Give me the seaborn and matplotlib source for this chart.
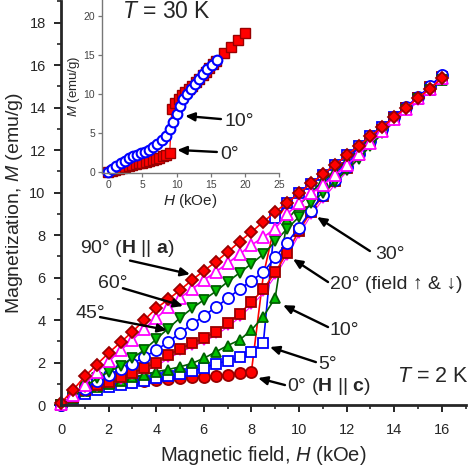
import matplotlib
matplotlib.use("Agg")
import matplotlib.pyplot as plt
from matplotlib.ticker import MultipleLocator
import seaborn as sns
import numpy as np


# --------------------------------------------------------------------------------------------------
# data (T = 2 K, field sweeps at different angles, 0.5 kOe steps)

H_MAIN = [0.0, 0.5, 1.0, 1.5, 2.0, 2.5, 3.0, 3.5, 4.0, 4.5, 5.0, 5.5, 6.0, 6.5, 7.0, 7.5,
          8.0, 8.5, 9.0, 9.5, 10.0, 10.5, 11.0, 11.5, 12.0, 12.5, 13.0, 13.5, 14.0, 14.5,
          15.0, 15.5, 16.0]

M_90 = [0.1, 0.7, 1.35, 1.9, 2.45, 2.95, 3.45, 4.0, 4.55, 4.97, 5.41, 5.88, 6.32, 6.74, 7.2,
        7.69, 8.15, 8.62, 9.1, 9.52, 9.96, 10.43, 10.86, 11.3, 11.75, 12.2, 12.65, 13.1,
        13.55, 14.0, 14.45, 14.9, 15.38]
M_60 = [0.05, 0.45, 0.95, 1.55, 2.05, 2.58, 3.06, 3.6, 4.08, 4.6, 5.05, 5.45, 5.88, 6.27,
        6.67, 7.1, 7.53, 7.9, 8.31, 9.0, 9.49, 9.96, 10.35, 10.82, 11.29, 11.8, 12.35, 12.9,
        13.45, 13.95, 14.45, 14.9, 15.38]
M_45 = [0.0, 0.4, 0.85, 1.25, 1.55, 1.85, 2.2, 2.6, 3.1, 3.6, 4.1, 4.55, 4.95, 5.35, 5.8,
        6.22, 6.65, 7.1, 7.7, 8.3, 8.86, 9.49, 10.0, 10.5, 11.06, 11.6, 12.2, 12.8, 13.4,
        13.9, 14.4, 14.85, 15.3]
M_30 = [0.0, 0.45, 0.75, 1.15, 1.4, 1.7, 1.95, 2.25, 2.6, 2.95, 3.4, 3.8, 4.2, 4.6, 5.02,
        5.45, 5.85, 6.25, 6.95, 7.65, 8.35, 9.15, 9.9, 10.6, 11.2, 11.8, 12.45, 13.0, 13.55,
        14.05, 14.5, 15.0, 15.55]
M_20_UP = [0.0, 0.4, 0.7, 0.95, 1.1, 1.3, 1.5, 1.75, 2.0, 2.35, 2.65, 2.9, 3.15, 3.45, 3.85,
           4.3, 4.85, 5.45, 6.25, 7.17, 8.2, 9.1, 9.85, 10.55, 11.15, 11.75, 12.4, 12.95,
           13.5, 14.0, 14.45, 14.95, 15.45]
M_20_DOWN = [0.0, 0.3, 0.58, 0.82, 0.97, 1.15, 1.35, 1.58, 1.83, 2.18, 2.48, 2.73, 2.98,
             3.28, 3.67, 4.12, 4.67, 5.27, 6.07, 6.99, 8.02, 8.92, 9.67, 10.37, 10.97, 11.57,
             12.22, 12.77, 13.32, 13.82, 14.27, 14.77, 15.27]
M_10 = [0.0, 0.35, 0.65, 0.85, 1.0, 1.15, 1.3, 1.42, 1.57, 1.67, 1.8, 1.96, 2.2, 2.5, 2.8,
        3.06, 3.53, 4.16, 5.05, 8.7, 9.4, 10.0, 10.55, 11.0, 11.5, 12.0, 12.5, 13.0, 13.5,
        13.95, 14.4, 14.85, 15.3]
M_5 = [0.0, 0.3, 0.5, 0.7, 0.85, 0.95, 1.05, 1.15, 1.25, 1.35, 1.45, 1.6, 1.75, 1.95, 2.07,
       2.24, 2.51, 2.9, 8.8, 9.5, 10.0, 10.4, 10.85, 11.3, 11.75, 12.2, 12.65, 13.1, 13.55,
       14.0, 14.45, 14.9, 15.4]
# 0 deg: markers up to 8 kOe, beyond that only the line
M_0 = [0.0, 0.45, 0.75, 0.9, 1.0, 1.05, 1.1, 1.15, 1.2, 1.22, 1.25, 1.3, 1.33, 1.38, 1.43,
       1.5, 1.57, 6.1, 8.6, 9.5, 10.0, 10.4, 10.85, 11.3, 11.75, 12.2, 12.65, 13.1, 13.55,
       14.0, 14.45, 14.9, 15.4]
N_MARK_0 = 17

# inset, T = 30 K
H_30K_10 = [0.0, 0.6, 1.2, 1.8, 2.4, 3.0, 3.6, 4.2, 4.8, 5.4, 6.0, 6.6, 7.2, 7.8, 8.4, 9.0,
            9.5, 10.0, 10.5, 11.0, 11.5, 12.1, 12.7, 13.3, 13.9, 14.5, 15.2, 15.9]
M_30K_10 = [0.0, 0.4, 0.8, 1.15, 1.45, 1.75, 2.0, 2.18, 2.38, 2.62, 2.85, 3.15, 3.55, 4.1,
            4.65, 5.5, 6.45, 7.45, 8.5, 9.35, 10.04, 10.7, 11.3, 11.9, 12.6, 13.2, 13.8, 14.4]
H_30K_0 = [0.0, 0.5, 1.0, 1.5, 2.0, 2.5, 3.0, 3.5, 4.0, 4.5, 5.0, 5.5, 6.0, 6.5, 7.0, 7.5,
           8.0, 8.5, 9.0, 9.3, 9.8, 10.3, 10.8, 11.3, 11.8, 12.3, 12.8, 13.3, 13.8, 14.3,
           14.8, 15.3, 15.8, 17.0, 18.0, 19.0, 20.0]
M_30K_0 = [0.0, 0.15, 0.3, 0.42, 0.54, 0.66, 0.78, 0.9, 1.0, 1.1, 1.2, 1.32, 1.45, 1.57, 1.7,
           1.85, 2.0, 2.2, 2.45, 8.1, 8.9, 9.4, 9.9, 10.3, 10.7, 11.1, 11.5, 11.9, 12.4, 12.9,
           13.4, 13.9, 14.3, 15.3, 16.0, 17.0, 17.9]


# --------------------------------------------------------------------------------------------------
# style

sns.set_style("ticks")
plt.rcParams["font.family"] = ["Liberation Sans", "DejaVu Sans"]
plt.rcParams["mathtext.fontset"] = "custom"
plt.rcParams["mathtext.rm"] = "Liberation Sans"
plt.rcParams["mathtext.it"] = "Liberation Sans:italic"
plt.rcParams["mathtext.bf"] = "Liberation Sans:bold"

RED, DRED = "#ff0000", "#990000"
GREEN, DGREEN = "#00c000", "#006000"
BLUE = "#0000ff"
MAG = "#ff00ff"

fig = plt.figure(figsize=(4.74, 4.72), dpi=100)
ax = fig.add_axes([0.1287, 0.1419, 0.8536, 0.855])


def curve(ax, x, y, color, marker, mfc, mec, ms=7.5, lw=1.2, mew=1.3, **kw):
    sns.lineplot(x=x, y=y, ax=ax, sort=False, estimator=None, color=color, lw=lw,
                 marker=marker, markersize=ms, markerfacecolor=mfc, markeredgecolor=mec,
                 markeredgewidth=mew, clip_on=False, **kw)


curve(ax, H_MAIN, M_0, RED, "o", RED, DRED, ms=8, markevery=list(range(N_MARK_0)))
curve(ax, H_MAIN, M_5, BLUE, "s", "white", BLUE, ms=6.5)
curve(ax, H_MAIN, M_10, DGREEN, "^", GREEN, DGREEN, ms=7.5)
curve(ax, H_MAIN, M_20_DOWN, MAG, "v", MAG, MAG, ms=4, lw=0.8)
curve(ax, H_MAIN, M_20_UP, RED, "s", RED, DRED, ms=6.5)
curve(ax, H_MAIN, M_30, BLUE, "o", "white", BLUE, ms=8)
curve(ax, H_MAIN, M_45, DGREEN, "v", GREEN, DGREEN, ms=7.5)
curve(ax, H_MAIN, M_60, MAG, "^", "white", MAG, ms=8)
curve(ax, H_MAIN, M_90, RED, "D", RED, DRED, ms=6.5)

ax.set_xlim(0, 17)
ax.set_ylim(0, 19)
ax.xaxis.set_major_locator(MultipleLocator(2))
ax.xaxis.set_minor_locator(MultipleLocator(1))
ax.yaxis.set_major_locator(MultipleLocator(2))
ax.yaxis.set_minor_locator(MultipleLocator(1))
ax.tick_params(which="major", direction="out", length=5, width=1.4, labelsize=10.5)
ax.tick_params(which="minor", direction="out", length=3, width=1.2)
ax.tick_params(axis="x", which="major", pad=8)
ax.tick_params(axis="y", which="major", pad=6)
for side in ["top", "right"]:
    ax.spines[side].set_visible(False)
for side in ["left", "bottom"]:
    ax.spines[side].set_linewidth(2)
ax.set_xlabel("Magnetic field, $H$ (kOe)", fontsize=14.5, labelpad=5)
ax.set_ylabel("Magnetization, $M$ (emu/g)", fontsize=14, labelpad=3)

# --- annotations (text pos, arrow tail, arrow tip)
arrow_kw = dict(arrowstyle="-|>,head_length=0.55,head_width=0.25", lw=1.7, color="black",
                shrinkA=0, shrinkB=0)
labels = [
    (r"90° ($\mathbf{H}$ || $\mathbf{a}$)", (0.8, 7.39), (2.9, 6.8), (5.42, 6.16)),
    ("60°", (1.55, 5.74), (2.6, 5.5), (5.13, 4.66)),
    ("45°", (0.59, 4.33), (1.64, 4.14), (4.45, 3.53)),
    ("30°", (13.2, 7.1), (12.98, 7.25), (10.76, 8.85)),
    ("20° (field ↑ & ↓)", (11.3, 5.69), (11.22, 5.79), (9.75, 6.87)),
    ("10°", (11.3, 3.53), (11.22, 3.67), (9.33, 4.7)),
    ("5°", (10.8, 1.93), (10.71, 2.02), (8.78, 2.73)),
    (r"0° ($\mathbf{H}$ || $\mathbf{c}$)", (9.5, 0.85), (9.41, 0.94), (8.28, 1.27)),
]
for txt, pos, tail, tip in labels:
    ax.text(pos[0], pos[1], txt, fontsize=14, ha="left", va="center")
    ax.annotate("", xy=tip, xytext=tail, arrowprops=arrow_kw)

ax.text(14.1, 1.36, "$T$ = 2 K", fontsize=15.5, ha="left", va="center")


# --------------------------------------------------------------------------------------------------
# inset (T = 30 K)

ins = fig.add_axes([0.2152, 0.634, 0.3734, 0.366])
ins.patch.set_alpha(0)
curve(ins, H_30K_0, M_30K_0, RED, "s", RED, DRED, ms=6.5, lw=0.9, mew=1.0)
curve(ins, H_30K_10, M_30K_10, BLUE, "o", "white", BLUE, ms=7, lw=0.9, mew=1.5)
ins.set_xlim(-0.92, 25)
ins.set_ylim(-0.1, 22.1)
ins.xaxis.set_major_locator(MultipleLocator(5))
ins.yaxis.set_major_locator(MultipleLocator(5))
ins.tick_params(direction="out", length=3, width=0.9, color="#777777", labelcolor="#444444",
                labelsize=7.5, pad=2)
for side in ["top", "right"]:
    ins.spines[side].set_visible(False)
for side in ["left", "bottom"]:
    ins.spines[side].set_linewidth(1)
    ins.spines[side].set_color("#777777")
ins.set_xlabel("$H$ (kOe)", fontsize=11, labelpad=2)
ins.set_ylabel("$M$ (emu/g)", fontsize=9.5, labelpad=1)

ins.text(2.05, 20.6, "$T$ = 30 K", fontsize=16.5, ha="left", va="center")
ins.text(17.0, 6.43, "10°", fontsize=14, ha="left", va="center")
ins.annotate("", xy=(11.26, 7.2), xytext=(16.5, 6.8), arrowprops=arrow_kw)
ins.text(16.4, 2.19, "0°", fontsize=14, ha="left", va="center")
ins.annotate("", xy=(10.1, 2.83), xytext=(15.9, 2.57), arrowprops=arrow_kw)

plt.savefig("out.png", dpi=100)
plt.close()
